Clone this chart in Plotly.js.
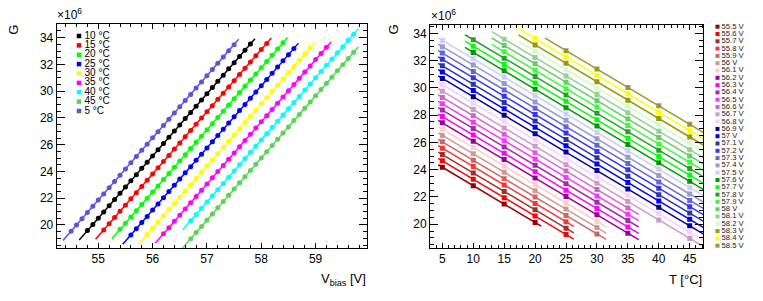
<!DOCTYPE html>
<html><head><meta charset="utf-8">
<script src="https://cdn.plot.ly/plotly-3.0.1.min.js"></script>
<style>html,body{margin:0;padding:0;background:#fff}#chart{width:763px;height:301px}</style>
</head><body><div id="chart"></div>
<script>
const _ = null;
// bias voltage grid [V]
const volts = [54.5,54.6,54.7,54.8,54.9,55.0,55.1,55.2,55.3,55.4,55.5,55.6,55.7,55.8,55.9,56.0,56.1,56.2,56.3,56.4,56.5,56.6,56.7,56.8,56.9,57.0,57.1,57.2,57.3,57.4,57.5,57.6,57.7,57.8,57.9,58.0,58.1,58.2,58.3,58.4,58.5,58.6,58.7,58.8,58.9,59.0,59.1,59.2,59.3,59.4,59.5,59.6,59.7];
// gain (x10^6) per temperature, aligned with volts
const g05 = [19.53,20.00,20.46,20.93,21.39,21.86,22.32,22.79,23.25,23.72,24.18,24.65,25.11,25.58,26.04,26.51,26.97,27.44,27.90,28.37,28.83,29.30,29.76,30.23,30.69,31.16,31.62,32.09,32.55,33.02,33.48,_,_,_,_,_,_,_,_,_,_,_,_,_,_,_,_,_,_,_,_,_,_];
const g10 = [_,_,_,19.58,20.04,20.51,20.97,21.44,21.90,22.37,22.83,23.30,23.76,24.23,24.69,25.16,25.62,26.09,26.55,27.02,27.48,27.95,28.41,28.88,29.34,29.81,30.27,30.74,31.20,31.67,32.13,32.60,33.06,33.53,_,_,_,_,_,_,_,_,_,_,_,_,_,_,_,_,_,_,_];
const g15 = [_,_,_,_,_,_,19.62,20.09,20.55,21.02,21.48,21.95,22.41,22.88,23.34,23.81,24.27,24.74,25.20,25.67,26.13,26.60,27.06,27.53,27.99,28.46,28.92,29.39,29.85,30.32,30.78,31.25,31.71,32.18,32.64,33.11,33.57,_,_,_,_,_,_,_,_,_,_,_,_,_,_,_,_];
const g20 = [_,_,_,_,_,_,_,_,_,19.67,20.13,20.60,21.06,21.53,21.99,22.46,22.92,23.39,23.85,24.32,24.78,25.25,25.71,26.18,26.64,27.11,27.57,28.04,28.50,28.97,29.43,29.90,30.36,30.83,31.29,31.76,32.22,32.69,33.15,33.62,_,_,_,_,_,_,_,_,_,_,_,_,_];
const g25 = [_,_,_,_,_,_,_,_,_,_,_,19.25,19.71,20.18,20.64,21.11,21.57,22.04,22.50,22.97,23.43,23.90,24.36,24.83,25.29,25.76,26.22,26.69,27.15,27.62,28.08,28.55,29.01,29.48,29.94,30.41,30.87,31.34,31.80,32.27,32.73,33.20,_,_,_,_,_,_,_,_,_,_,_];
const g30 = [_,_,_,_,_,_,_,_,_,_,_,_,_,_,19.29,19.76,20.22,20.69,21.15,21.62,22.08,22.55,23.01,23.48,23.94,24.41,24.87,25.34,25.80,26.27,26.73,27.20,27.66,28.13,28.59,29.06,29.52,29.99,30.45,30.92,31.38,31.85,32.31,32.78,33.24,_,_,_,_,_,_,_,_];
const g35 = [_,_,_,_,_,_,_,_,_,_,_,_,_,_,_,_,_,19.34,19.80,20.27,20.73,21.20,21.66,22.13,22.59,23.06,23.52,23.99,24.45,24.92,25.38,25.85,26.31,26.78,27.24,27.71,28.17,28.64,29.10,29.57,30.03,30.50,30.96,31.43,31.89,32.36,32.82,33.29,_,_,_,_,_];
const g40 = [_,_,_,_,_,_,_,_,_,_,_,_,_,_,_,_,_,_,_,_,_,_,20.31,20.78,21.24,21.71,22.17,22.64,23.10,23.57,24.03,24.50,24.96,25.43,25.89,26.36,26.82,27.29,27.75,28.22,28.68,29.15,29.61,30.08,30.54,31.01,31.47,31.94,32.40,32.87,33.33,33.80,34.26];
const g45 = [_,_,_,_,_,_,_,_,_,_,_,_,_,_,_,_,_,_,_,_,_,_,18.96,19.43,19.89,20.36,20.82,21.29,21.75,22.22,22.68,23.15,23.61,24.08,24.54,25.01,25.47,25.94,26.40,26.87,27.33,27.80,28.26,28.73,29.19,29.66,30.12,30.59,31.05,31.52,31.98,32.45,32.91];

// left panel series, in legend order
const tempLabels = ["10 °C","15 °C","20 °C","25 °C","30 °C","35 °C","40 °C","45 °C","5 °C"];
const tempColors = ["#000000","#ff0000","#00ff00","#0000ff","#ffff00","#ff00ff","#00ffff","#59d454","#5954d9"];
const tempGains  = [g10,g15,g20,g25,g30,g35,g40,g45,g05];

// right panel
const temps = [5,10,15,20,25,30,35,40,45];
const gainsByTemp = [g05,g10,g15,g20,g25,g30,g35,g40,g45];
const rightVolts = [55.5,55.6,55.7,55.8,55.9,56.0,56.1,56.2,56.3,56.4,56.5,56.6,56.7,56.8,56.9,57.0,57.1,57.2,57.3,57.4,57.5,57.6,57.7,57.8,57.9,58.0,58.1,58.2,58.3,58.4,58.5];
const rightLabels = ["55.5 V","55.6 V","55.7 V","55.8 V","55.9 V","56 V","56.1 V","56.2 V","56.3 V","56.4 V","56.5 V","56.6 V","56.7 V","56.8 V","56.9 V","57 V","57.1 V","57.2 V","57.3 V","57.4 V","57.5 V","57.6 V","57.7 V","57.8 V","57.9 V","58 V","58.1 V","58.2 V","58.3 V","58.4 V","58.5 V"];
const rightColors = ["#990000","#ff0000","#993333","#ff3333","#cc6666","#cc9999","#ffcccc",
                     "#990099","#ff00ff","#993399","#ff33ff","#cc66cc","#cc99cc","#ffccff",
                     "#000099","#0000ff","#333399","#3333ff","#6666cc","#9999cc","#ccccff",
                     "#009900","#00ff00","#339933","#33ff33","#66cc66","#99cc99","#ccffcc",
                     "#999900","#ffff00","#999933"];

[g05,g10,g15,g20,g25,g30,g35,g40,g45].forEach((g,i)=>{ if(g.length!==volts.length) throw new Error("gain array "+i+" has length "+g.length); });

function linfit(xs, ys){
  const n=xs.length; let sx=0,sy=0,sxx=0,sxy=0;
  for(let i=0;i<n;i++){sx+=xs[i];sy+=ys[i];sxx+=xs[i]*xs[i];sxy+=xs[i]*ys[i];}
  const b=(n*sxy-sx*sy)/(n*sxx-sx*sx); const a=(sy-b*sx)/n; return [a,b];
}

const W=763, H=301;
const px=p=>p/W, py=p=>1-p/H;
const FONT='"Liberation Sans", Arial, Helvetica, sans-serif';

const traces=[];
// left panel
tempGains.forEach((g,k)=>{
  const xs=[],ys=[];
  g.forEach((v,i)=>{ if(v!==null){xs.push(volts[i]);ys.push(v);} });
  const [a,b]=linfit(xs,ys);
  const x0=xs[0]-0.15, x1=xs[xs.length-1]+0.085;
  traces.push({type:'scatter',mode:'lines',x:[x0,x1],y:[a+b*x0,a+b*x1],xaxis:'x',yaxis:'y',
    line:{color:tempColors[k],width:1.5},hoverinfo:'skip',showlegend:false});
  traces.push({type:'scatter',mode:'markers',x:xs,y:ys,xaxis:'x',yaxis:'y',
    marker:{symbol:'circle',size:5,color:tempColors[k]},showlegend:false});
});
// right panel
rightVolts.forEach((v,k)=>{
  const iv=volts.findIndex(u=>Math.abs(u-v)<1e-6);
  const xs=[],ys=[];
  temps.forEach((t,j)=>{ const val=gainsByTemp[j][iv]; if(val!==null){xs.push(t);ys.push(val);} });
  const [a,b]=linfit(xs,ys);
  const x0=xs[0]*0.865, x1=xs[xs.length-1]*1.05;
  traces.push({type:'scatter',mode:'lines',x:[x0,x1],y:[a+b*x0,a+b*x1],xaxis:'x2',yaxis:'y2',
    line:{color:rightColors[k],width:1.5},hoverinfo:'skip',showlegend:false});
  traces.push({type:'scatter',mode:'markers',x:xs,y:ys,xaxis:'x2',yaxis:'y2',
    marker:{symbol:'square',size:5,color:rightColors[k]},showlegend:false});
});
// legends (built from the series labels/colours)
traces.push({type:'scatter',mode:'markers',xaxis:'x3',yaxis:'y3',cliponaxis:false,
  x:tempLabels.map(()=>0.5),y:tempLabels.map((_,i)=>i),marker:{symbol:'square',size:4.5,color:tempColors},showlegend:false});
traces.push({type:'scatter',mode:'text',xaxis:'x3',yaxis:'y3',cliponaxis:false,
  x:tempLabels.map(()=>1.05),y:tempLabels.map((_,i)=>i),text:tempLabels,textposition:'middle right',
  textfont:{family:FONT,size:10,color:'#000'},showlegend:false});
traces.push({type:'scatter',mode:'markers',xaxis:'x4',yaxis:'y4',cliponaxis:false,
  x:rightLabels.map(()=>0.45),y:rightLabels.map((_,i)=>i),marker:{symbol:'square',size:4,color:rightColors},showlegend:false});
traces.push({type:'scatter',mode:'text',xaxis:'x4',yaxis:'y4',cliponaxis:false,
  x:rightLabels.map(()=>0.85),y:rightLabels.map((_,i)=>i),text:rightLabels,textposition:'middle right',
  textfont:{family:FONT,size:7.7,color:'#222'},showlegend:false});

const axBase={showline:true,linecolor:'#000',linewidth:1,mirror:'allticks',ticks:'inside',tickcolor:'#000',tickwidth:1,
  showgrid:false,zeroline:false,tickfont:{family:FONT,size:12,color:'#000'},fixedrange:true};
const hid={visible:false,fixedrange:true,showgrid:false,zeroline:false};

const layout={
  width:W,height:H,margin:{l:0,r:0,t:0,b:0},paper_bgcolor:'#fff',plot_bgcolor:'#fff',showlegend:false,
  font:{family:FONT,color:'#000'},
  xaxis:Object.assign({},axBase,{domain:[px(56.7),px(366.7)],range:[54.235,59.94],anchor:'y',tick0:55,dtick:1,ticklen:5,
    minor:{dtick:0.2,ticklen:2.5,ticks:'inside',tickcolor:'#000',showgrid:false}}),
  yaxis:Object.assign({},axBase,{domain:[py(247.7),py(24.3)],range:[18.3,35.0],anchor:'x',tick0:0,dtick:2,ticklen:8,
    minor:{dtick:0.5,ticklen:4,ticks:'inside',tickcolor:'#000',showgrid:false}}),
  xaxis2:Object.assign({},axBase,{domain:[px(430),px(703.3)],range:[3.0,47.2],anchor:'y2',tick0:0,dtick:5,ticklen:5,
    minor:{dtick:1,ticklen:2.5,ticks:'inside',tickcolor:'#000',showgrid:false}}),
  yaxis2:Object.assign({},axBase,{domain:[py(247.7),py(25)],range:[18.28,34.61],anchor:'x2',tick0:0,dtick:2,ticklen:8,
    minor:{dtick:0.5,ticklen:4,ticks:'inside',tickcolor:'#000',showgrid:false}}),
  xaxis3:Object.assign({},hid,{domain:[px(74),px(124)],range:[0,5],anchor:'y3'}),
  yaxis3:Object.assign({},hid,{domain:[py(115.7),py(31.3)],range:[8.5,-0.5],anchor:'x3'}),
  xaxis4:Object.assign({},hid,{domain:[px(713),px(723)],range:[0,1],anchor:'y4'}),
  yaxis4:Object.assign({},hid,{domain:[py(249.35),py(23.05)],range:[30.5,-0.5],anchor:'x4'}),
  annotations:[
    {xref:'paper',yref:'paper',x:px(55),y:py(24),xanchor:'left',yanchor:'bottom',showarrow:false,text:'×10<sup>6</sup>',font:{size:12}},
    {xref:'paper',yref:'paper',x:px(428.5),y:py(24.5),xanchor:'left',yanchor:'bottom',showarrow:false,text:'×10<sup>6</sup>',font:{size:12}},
    {xref:'paper',yref:'paper',x:px(13.3),y:py(29.5),xanchor:'center',yanchor:'middle',showarrow:false,text:'G',textangle:-90,font:{size:13}},
    {xref:'paper',yref:'paper',x:px(393.3),y:py(29.3),xanchor:'center',yanchor:'middle',showarrow:false,text:'G',textangle:-90,font:{size:13}},
    {xref:'paper',yref:'paper',x:px(367.5),y:py(279),xanchor:'right',yanchor:'middle',showarrow:false,text:'V<sub>bias</sub> [V]',font:{size:13}},
    {xref:'paper',yref:'paper',x:px(704),y:py(279),xanchor:'right',yanchor:'middle',showarrow:false,text:'T [°C]',font:{size:13}}
  ]
};
Plotly.newPlot('chart',traces,layout,{staticPlot:true,displayModeBar:false});
</script></body></html>
